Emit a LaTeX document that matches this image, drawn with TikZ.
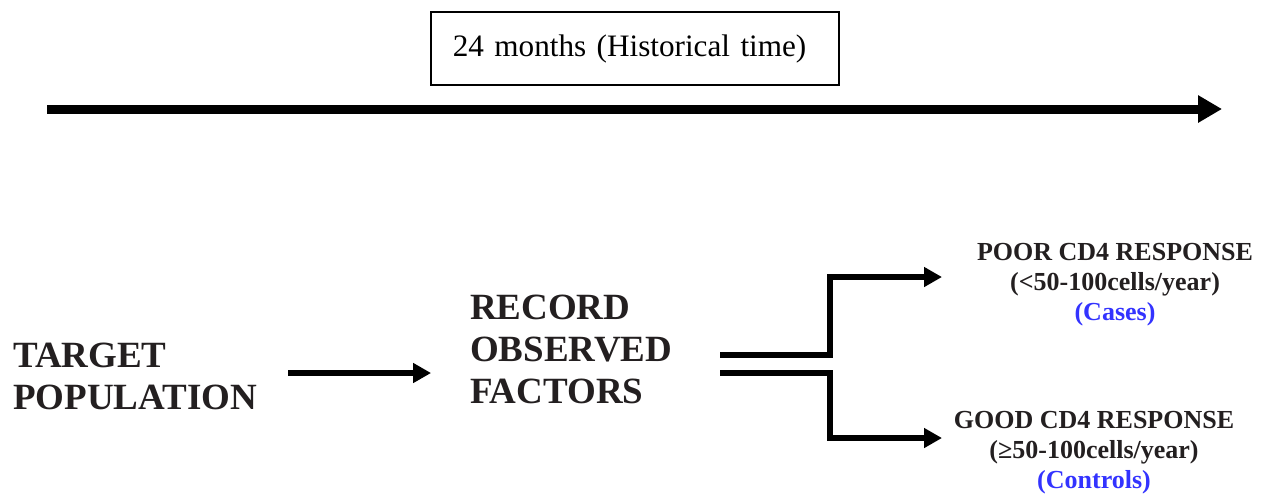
\documentclass[tikz,border=0pt]{standalone}
\usepackage{fontspec}
\setmainfont{Liberation Serif}
\usepackage{tikz}
\usetikzlibrary{calc,arrows.meta,positioning}
\definecolor{ink}{RGB}{35,31,32}
\definecolor{caseblue}{RGB}{51,51,255}

\begin{document}
\begin{tikzpicture}[
x=0.5pt, y=-0.5pt,
timebox/.style={
	draw, line width=0.8pt, anchor=west,
	inner xsep=11pt, text width=182pt, align=left,
	minimum height=36.5pt, text=black,
	font=\fontsize{15.6}{19}\selectfont
},
stage/.style={
	anchor=west, align=left, text=ink,
	font=\fontsize{18.5}{21}\selectfont\bfseries
},
outcome/.style={
	align=center, text=ink,
	font=\fontsize{13}{15}\selectfont\bfseries
},
timeline/.style={line width=4.5pt, -{Triangle[length=12pt,width=13pt]}},
flow/.style={line width=2.6pt, -{Triangle[length=9pt,width=9.5pt]}}
]
\useasboundingbox (0,0) rectangle (1272,495);

% time span
\node[timebox] (span) at (430,48.5) {24 months (Historical time)};
\coordinate (t0) at (47,109);
\coordinate (t1) at (1222,109);
\draw[timeline] (t0) -- (t1);

% stages
\node[stage] (target) at (6,376) {TARGET\\POPULATION};
\node[stage] (record) at (463,349) {RECORD\\OBSERVED\\FACTORS};
\draw[flow] ([xshift=12pt,yshift=1.5pt]target.east) -- ++(71.5pt,0);

% outcomes
\node[outcome] (poor) at (1115,285) {POOR CD4 RESPONSE\\(<50-100cells/year)\\\textcolor{caseblue}{(Cases)}};
\node[outcome] (good) at (1094,453) {GOOD CD4 RESPONSE\\(≥50-100cells/year)\\\textcolor{caseblue}{(Controls)}};

\coordinate (upA) at (720,355);
\coordinate (upB) at (942,277);
\coordinate (dnA) at (720,373);
\coordinate (dnB) at (942,438);
\draw[flow] (upA) -- (830,355) |- (upB);
\draw[flow] (dnA) -- (830,373) |- (dnB);
\end{tikzpicture}
\end{document}
